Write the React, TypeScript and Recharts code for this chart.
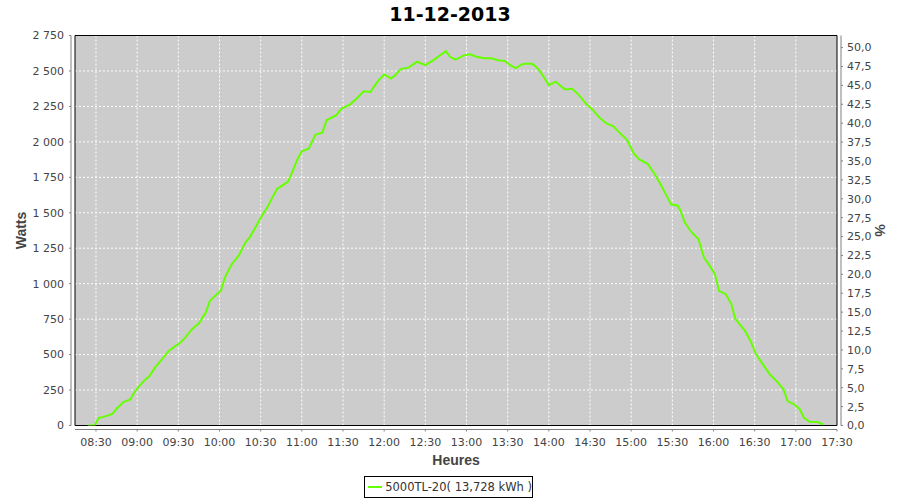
import { CartesianGrid, Line, LineChart, ReferenceArea, XAxis, YAxis } from 'recharts';

const TITLE = '11-12-2013';
const SERIES_NAME = '5000TL-20( 13,728 kWh )';
const LINE_COLOR = '#66ff00';

// production readings (time of day -> watts)
const TIMES = [
  '08:24', '08:29', '08:32', '08:35', '08:42', '08:45', '08:50', '08:55', '08:57', '09:01',
  '09:06', '09:09', '09:13', '09:18', '09:23', '09:28', '09:31', '09:35', '09:40', '09:45',
  '09:50', '09:53', '09:58', '10:01', '10:04', '10:09', '10:14', '10:19', '10:22', '10:27',
  '10:31', '10:35', '10:38', '10:42', '10:47', '10:50', '10:53', '10:57', '11:00', '11:05',
  '11:10', '11:15', '11:18', '11:25', '11:29', '11:35', '11:40', '11:45', '11:50', '11:52',
  '11:56', '12:00', '12:05', '12:08', '12:12', '12:18', '12:24', '12:30', '12:36', '12:41',
  '12:45', '12:48', '12:52', '12:58', '13:03', '13:07', '13:13', '13:18', '13:23', '13:28',
  '13:32', '13:36', '13:40', '13:42', '13:48', '13:50', '13:53', '13:57', '14:00', '14:05',
  '14:09', '14:12', '14:17', '14:22', '14:27', '14:32', '14:37', '14:42', '14:47', '14:52',
  '14:57', '15:02', '15:06', '15:12', '15:17', '15:22', '15:27', '15:29', '15:34', '15:36',
  '15:39', '15:44', '15:49', '15:53', '15:58', '16:01', '16:04', '16:09', '16:13', '16:16',
  '16:23', '16:27', '16:31', '16:36', '16:41', '16:47', '16:51', '16:54', '16:59', '17:03',
  '17:06', '17:10', '17:16', '17:20',
];

const WATTS = [
  0, 0, 54, 59, 82, 118, 165, 184, 219, 273,
  325, 349, 408, 467, 526, 561, 580, 620, 679, 721,
  797, 879, 926, 950, 1045, 1139, 1198, 1292, 1327, 1410,
  1480, 1540, 1598, 1669, 1700, 1720, 1787, 1881, 1933, 1952,
  2051, 2065, 2152, 2188, 2235, 2263, 2306, 2357, 2352, 2381,
  2435, 2475, 2447, 2470, 2513, 2525, 2565, 2541, 2576, 2612,
  2640, 2600, 2580, 2610, 2618, 2600, 2590, 2590, 2575, 2570,
  2540, 2520, 2545, 2550, 2550, 2535, 2505, 2447, 2400, 2425,
  2390, 2370, 2375, 2330, 2270, 2225, 2170, 2130, 2110, 2060,
  2015, 1917, 1876, 1845, 1775, 1690, 1598, 1560, 1550, 1515,
  1433, 1363, 1315, 1186, 1115, 1068, 950, 926, 856, 750,
  667, 596, 502, 431, 361, 302, 255, 172, 148, 113,
  54, 26, 24, 7,
];

const X_TICKS = [
  '08:30', '09:00', '09:30', '10:00', '10:30', '11:00', '11:30', '12:00', '12:30', '13:00',
  '13:30', '14:00', '14:30', '15:00', '15:30', '16:00', '16:30', '17:00', '17:30',
];
const X_START = '08:14:42';
const X_END = '17:30';

const WATT_TICKS = [0, 250, 500, 750, 1000, 1250, 1500, 1750, 2000, 2250, 2500, 2750];
const PCT_TICKS = [
  0, 2.5, 5, 7.5, 10, 12.5, 15, 17.5, 20, 22.5, 25, 27.5, 30, 32.5, 35, 37.5, 40, 42.5, 45, 47.5, 50,
];
const PCT_MAX = 51.6;

const toMin = (s: string) => {
  const [h, m, sec] = s.split(':').map(Number);
  return h * 60 + m + (sec || 0) / 60;
};

const fmtTime = (v: number) => {
  const h = Math.floor(v / 60);
  const m = Math.round(v - h * 60);
  return `${String(h).padStart(2, '0')}:${String(m).padStart(2, '0')}`;
};
const fmtWatts = (v: number) => String(v).replace(/\B(?=(\d{3})+(?!\d))/g, ' ');
const fmtPct = (v: number) => v.toFixed(1).replace('.', ',');

const data = TIMES.map((t, i) => ({ t: toMin(t), w: WATTS[i] }));
const xTicks = X_TICKS.map(toMin);
const xMin = toMin(X_START);
const xMax = toMin(X_END);

const FONT = '"DejaVu Sans", Verdana, sans-serif';
const TICK = { fontSize: 11, fill: '#444', fontFamily: FONT };
const AXIS_TITLE = { fontSize: 14, fontWeight: 'bold' as const, fill: '#444', fontFamily: '"Liberation Sans", Arial, sans-serif' };
const AXIS_GRAY = '#808080';

const wattsLabel = (props: any) => {
  const vb = props.viewBox ?? { x: 0, y: 35.5, width: 75, height: 390 };
  const cx = vb.x + 21;
  const cy = vb.y + vb.height / 2;
  return (
    <text x={cx} y={cy} transform={`rotate(-90 ${cx} ${cy})`} textAnchor="middle" dominantBaseline="central" style={AXIS_TITLE}>
      Watts
    </text>
  );
};

const pctLabel = (props: any) => {
  const vb = props.viewBox ?? { x: 837, y: 35.5, width: 63, height: 390 };
  const cx = vb.x + 43;
  const cy = vb.y + vb.height / 2;
  return (
    <text x={cx} y={cy} transform={`rotate(90 ${cx} ${cy})`} textAnchor="middle" dominantBaseline="central" style={AXIS_TITLE}>
      %
    </text>
  );
};

const hoursLabel = (props: any) => {
  const vb = props.viewBox ?? { x: 75, y: 425.5, width: 762, height: 40 };
  return (
    <text x={vb.x + vb.width / 2} y={vb.y + 34.5} textAnchor="middle" dominantBaseline="central" style={AXIS_TITLE}>
      Heures
    </text>
  );
};

export default function App() {
  return (
    <div style={{ position: 'absolute', left: 0, top: 0, width: 900, height: 500, background: '#fff' }}>
      <div
        style={{
          position: 'absolute', left: 0, top: 0, width: 900, textAlign: 'center',
          fontFamily: FONT, fontWeight: 'bold', fontSize: 19, lineHeight: '28px', color: '#000',
        }}
      >
        {TITLE}
      </div>

      <LineChart width={900} height={500} data={data} margin={{ top: 35.5, right: 0, bottom: 34.5, left: 0 }}>
        <CartesianGrid
          yAxisId="w"
          fill="#cccccc"
          fillOpacity={1}
          stroke="#ffffff"
          strokeDasharray="2 2"
          horizontalValues={WATT_TICKS.slice(1, -1)}
          verticalValues={xTicks.slice(0, -1)}
        />
        <ReferenceArea yAxisId="w" x1={xMin} x2={xMax} y1={0} y2={2750} fill="none" stroke="#000" strokeWidth={1} />
        <XAxis
          type="number"
          dataKey="t"
          domain={[xMin, xMax]}
          allowDataOverflow
          ticks={xTicks}
          interval={0}
          tickFormatter={fmtTime}
          height={40}
          tickSize={2}
          tickMargin={11}
          tick={TICK}
          axisLine={{ stroke: AXIS_GRAY, transform: 'translate(0,4)' }}
          tickLine={{ stroke: AXIS_GRAY, transform: 'translate(0,4)' }}
          label={hoursLabel}
        />
        <YAxis
          yAxisId="w"
          type="number"
          domain={[0, 2750]}
          allowDataOverflow
          ticks={WATT_TICKS}
          interval={0}
          tickFormatter={fmtWatts}
          width={75}
          tickSize={2}
          tickMargin={9}
          tick={TICK}
          axisLine={{ stroke: AXIS_GRAY, transform: 'translate(-4,0)' }}
          tickLine={{ stroke: AXIS_GRAY, transform: 'translate(-4,0)' }}
          label={wattsLabel}
        />
        <YAxis
          yAxisId="pct"
          orientation="right"
          type="number"
          domain={[0, PCT_MAX]}
          allowDataOverflow
          ticks={PCT_TICKS}
          interval={0}
          tickFormatter={fmtPct}
          width={63}
          tickSize={2}
          tickMargin={8}
          tick={TICK}
          axisLine={{ stroke: AXIS_GRAY, transform: 'translate(4,0)' }}
          tickLine={{ stroke: AXIS_GRAY, transform: 'translate(4,0)' }}
          label={pctLabel}
        />
        <Line
          yAxisId="w"
          type="linear"
          dataKey="w"
          name={SERIES_NAME}
          stroke={LINE_COLOR}
          strokeWidth={2}
          dot={false}
          activeDot={false}
          isAnimationActive={false}
        />
      </LineChart>

      <div
        style={{
          position: 'absolute', left: 364, top: 476, width: 169, height: 22, boxSizing: 'border-box',
          border: '1px solid #000', display: 'flex', alignItems: 'center', paddingLeft: 3,
          fontFamily: FONT, fontSize: 11.5, color: '#333', whiteSpace: 'nowrap',
        }}
      >
        <span style={{ display: 'inline-block', width: 16, height: 2, background: LINE_COLOR, marginRight: 3 }} />
        {SERIES_NAME}
      </div>
    </div>
  );
}
